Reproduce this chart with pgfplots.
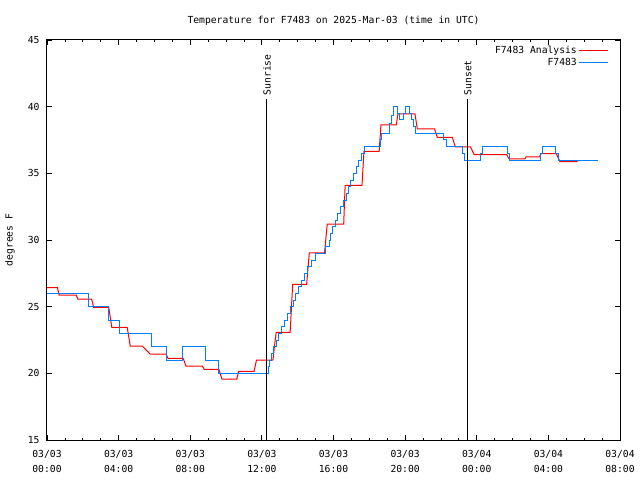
\documentclass[border=0pt]{standalone}
\usepackage{fontspec}
\setmainfont{DejaVu Sans Mono}
\usepackage{pgfplots}
\pgfplotsset{compat=1.18}
\definecolor{gred}{RGB}{255,0,0}
\definecolor{gblue}{RGB}{0,128,255}
\begin{document}
\begin{tikzpicture}
\path (0,0) rectangle (640pt,480pt);
\begin{axis}[
  at={(47pt,40pt)}, anchor=south west,
  scale only axis, width=573pt, height=400pt,
  xmin=0, xmax=32, ymin=15, ymax=45,
  font=\fontsize{9.7pt}{15pt}\selectfont,
  /pgf/number format/assume math mode=true,
  xtick={0,4,...,32},
  xticklabels={{03/03\\00:00},{03/03\\04:00},{03/03\\08:00},{03/03\\12:00},{03/03\\16:00},{03/03\\20:00},{03/04\\00:00},{03/04\\04:00},{03/04\\08:00}},
  xticklabel style={align=center, yshift=-7pt, font=\fontsize{9.7pt}{14.5pt}\selectfont},
  minor x tick num=3,
  ytick={15,20,...,45},
  yticklabel style={xshift=-4pt, font=\fontsize{9.7pt}{12pt}\selectfont},
  tick align=inside,
  major tick length=5pt, minor tick length=2.5pt,
  every tick/.style={black, line width=0.8pt},
  axis line style={line width=1pt},
  title={Temperature for F7483 on 2025-Mar-03 (time in UTC)},
  title style={at={(0.5,1)}, anchor=center, yshift=13pt},
  ylabel={degrees F},
  ylabel style={at={(axis description cs:-0.0646,0.5)}, anchor=center},
  legend plot pos=right,
  legend cell align=right,
  legend style={draw=none, fill=none, at={(1,1)}, anchor=north east, xshift=-8pt, yshift=-2pt, row sep=-1pt, font=\fontsize{9.7pt}{12pt}\selectfont},
  legend image code/.code={\draw[#1] (0pt,0pt) -- (29pt,0pt);},
]
\addplot[gred, line width=1pt] coordinates {
(0,26.43)(0.58,26.43)(0.68,25.86)(1.64,25.86)(1.72,25.56)(2.49,25.56)(2.55,25.3)(2.6,24.94)(3.45,24.94)(3.62,23.44)(4.48,23.44)(4.65,22.04)(5.33,22.04)(5.76,21.44)(6.65,21.44)(6.76,21.12)(7.61,21.12)(7.76,20.54)(8.68,20.54)(8.78,20.3)(9.6,20.3)(9.77,19.57)(10.6,19.57)(10.7,20.14)(11.56,20.14)(11.7,21.0)(12.62,21.0)(12.7,22.0)(12.8,23.08)(13.58,23.08)(13.72,26.68)(14.5,26.68)(14.65,29.03)(15.5,29.03)(15.65,31.2)(16.57,31.2)(16.65,34.09)(17.59,34.09)(17.7,36.64)(18.55,36.64)(18.65,38.64)(19.51,38.64)(19.6,39.46)(20.55,39.46)(20.68,38.34)(21.64,38.34)(21.8,37.69)(22.64,37.69)(22.8,36.99)(23.65,36.99)(23.85,36.41)(25.67,36.41)(25.8,36.09)(26.69,36.09)(26.76,36.24)(27.5,36.24)(27.6,36.47)(28.44,36.47)(28.65,35.87)(29.64,35.87)
};
\addlegendentry{F7483 Analysis}
\addplot[gblue, line width=1pt, const plot] coordinates {
(0.02,26)(2.33,25)(3.45,24)(4.05,23)(5.85,22)(6.7,21)(7.55,22)(8.85,21)(9.6,20)
(12.36,20.5)(12.45,21)(12.56,21.5)(12.67,22)(12.8,22.5)(12.94,23)(13.1,23.5)(13.26,24)(13.42,24.5)(13.58,25)(13.74,25.5)(13.9,26)(14.06,26.5)(14.22,27)(14.38,27.5)(14.54,28)(14.75,28.5)(14.97,29)(15.55,29.5)(15.76,30)(15.85,30.5)(15.93,31)(16.09,31.5)(16.25,32)(16.41,32.5)(16.57,33)(16.7,33.5)(16.82,34)(16.96,34.5)(17.1,35)(17.26,35.5)(17.42,36)(17.58,36.5)(17.74,37)(18.6,37.5)(18.7,38)(19.1,38.7)(19.25,39.3)(19.34,40)(19.55,39.5)(19.66,39)(19.9,39.5)(20.02,40)(20.22,39.5)(20.34,39)(20.45,38.5)(20.58,38)(22.15,37.5)(22.32,37)(23.2,36.5)(23.33,36)(24.2,36.5)(24.31,37)(25.72,36.5)(25.84,36)(27.55,36.5)(27.65,37)(28.4,36.5)(28.55,36)(30.79,36)
};
\addlegendentry{F7483}
\addplot[black, line width=1pt, forget plot] coordinates {(12.28,15) (12.28,40.57)} node[pos=1, rotate=90, anchor=west, font=\fontsize{9.7pt}{12pt}\selectfont] {Sunrise};
\addplot[black, line width=1pt, forget plot] coordinates {(23.5,15) (23.5,40.57)} node[pos=1, rotate=90, anchor=west, font=\fontsize{9.7pt}{12pt}\selectfont] {Sunset};
\end{axis}
\end{tikzpicture}
\end{document}
